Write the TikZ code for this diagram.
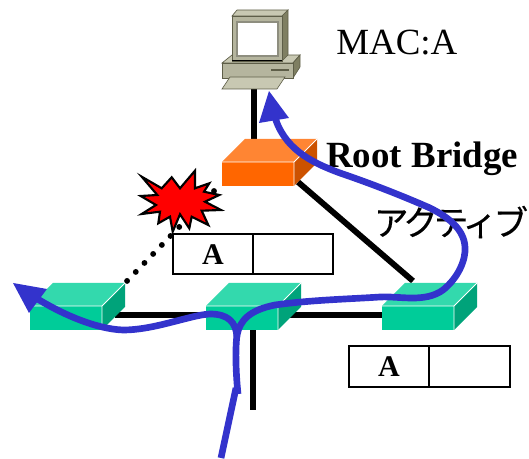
\documentclass[tikz,border=0pt]{standalone}
\usepackage{fontspec}
\setmainfont{Liberation Serif}
\newfontfamily\cjk[FakeBold=0.3,LetterSpace=-11]{Noto Sans CJK JP}
\definecolor{blu}{HTML}{3333CC}
\definecolor{swF}{HTML}{00CC99}
\definecolor{swT}{HTML}{33D9AD}
\definecolor{swS}{HTML}{00A37A}
\definecolor{orF}{HTML}{FF6600}
\definecolor{orT}{HTML}{FF8533}
\definecolor{orS}{HTML}{CC5200}
\definecolor{pcF}{HTML}{B5B59E}
\definecolor{pcT}{HTML}{C8C8B2}
\definecolor{pcS}{HTML}{7F7F62}
\definecolor{pcE}{HTML}{5E5E48}
\begin{document}
\begin{tikzpicture}[x=0.75pt,y=-0.75pt,
  wire/.style={line width=4.4pt,black},
  flow/.style={line width=5pt,blu,line cap=butt},
  headfill/.style={fill=blu,draw=none},
  tablebox/.style={draw=black,line width=1.4pt},
  tabletext/.style={font=\bfseries\fontsize{22.5pt}{24pt}\selectfont,text=black,inner sep=0pt,anchor=center},
  facelab/.style={draw=white,line width=0.6pt}]
\useasboundingbox (0,0) rectangle (529,459);
\coordinate (pcbot) at (254,88);
\coordinate (rootTop) at (254,141);
\coordinate (rootCorner) at (298,182);
\coordinate (swRtop) at (413,281);
\coordinate (swLr) at (115,315);
\coordinate (swMl) at (208,315);
\coordinate (swMr) at (285,315);
\coordinate (swRl) at (382,315);
\coordinate (swMb) at (253,330);
\coordinate (stub) at (253,410);
\coordinate (dotA) at (214,191);
\coordinate (dotB) at (127,281);
% wires
\draw[wire] (pcbot) -- (rootTop);
\draw[wire] (rootCorner) -- (swRtop);
\draw[wire] (swLr) -- (swMl);
\draw[wire] (swMr) -- (swRl);
\draw[wire] (swMb) -- (stub);
\draw[black,line width=4.4pt,line cap=round,dash pattern=on 0pt off 9.38pt] (dotA) -- (dotB);
% PC
\fill[pcT,draw=pcE,line width=.5pt] (222,63) -- (232,55) -- (300,55) -- (293,63) -- cycle;
\fill[pcS,draw=pcE,line width=.5pt] (293,63) -- (300,55) -- (300,67) -- (293,78) -- cycle;
\fill[pcF,draw=pcE,line width=.5pt] (222,63) rectangle (293,78);
\fill[pcE] (271,69) rectangle (289,71);
\fill[pcT,draw=pcE,line width=.5pt] (222,89) -- (230,77) -- (285,77) -- (277,89) -- cycle;
\fill[pcT,draw=pcE,line width=.5pt] (232,16) -- (237,10) -- (288,10) -- (282,16) -- cycle;
\fill[pcS,draw=pcE,line width=.5pt] (282,16) -- (288,10) -- (288,55) -- (282,61) -- cycle;
\fill[pcF,draw=pcE,line width=.5pt] (232,16) rectangle (282,61);
\fill[black] (232,60.5) rectangle (282,61.5);
\fill[white,draw=pcE!70,line width=1pt] (237,22) rectangle (278,56);
% root bridge
\fill[orT] (222,162) -- (245,139) -- (317,139) -- (294,162) -- cycle;
\fill[orS] (294,162) -- (317,139) -- (317,163) -- (294,186) -- cycle;
\fill[orF] (222,162) rectangle (294,186);
\draw[facelab] (222,162) -- (294,162) -- (317,139) (294,162) -- (294,186);
% switches
\foreach \o in {0,176,352}{
  \begin{scope}[xshift=\o*0.75pt]
  \fill[swT] (30,306) -- (53,283) -- (125,283) -- (102,306) -- cycle;
  \fill[swS] (102,306) -- (125,283) -- (125,307) -- (102,330) -- cycle;
  \fill[swF] (30,306) rectangle (102,330);
  \draw[facelab] (30,306) -- (102,306) -- (125,283) (102,306) -- (102,330);
  \end{scope}}
% star
\fill[red,draw=black,line width=1.6pt,line join=miter]
 (141.7,176.7) -- (161.7,188.3) -- (171.7,177.3) -- (180,188.3) -- (195,170.7) -- (195,188.3)
 -- (209.3,183.3) -- (204,191.7) -- (219.3,195) -- (205,201.7) -- (221,210) -- (201.7,210.7)
 -- (208.3,225) -- (191.7,216.7) -- (189.3,228.3) -- (180,214.3) -- (172.7,231.7) -- (170,216.7)
 -- (158.3,223.3) -- (160,211.7) -- (141.7,214) -- (156,205) -- (140.7,196) -- (157.3,195) -- cycle;
% tables
\draw[tablebox] (173,234) rectangle (333,274) (253,234) -- (253,274);
\draw[tablebox] (349,346) rectangle (510,387) (429,346) -- (429,387);
\node[tabletext] (a1) at (213,255) {A};
\node[tabletext] (a2) at (389,367) {A};
% text
\node[anchor=base west,inner sep=0pt,font=\fontsize{27.7pt}{30pt}\selectfont] (mac) at (336,55) {MAC:A};
\node[anchor=base west,inner sep=0pt,font=\bfseries\fontsize{27.7pt}{30pt}\selectfont] (rb) at (326,168) {Root Bridge};
\node[anchor=center,inner sep=0pt,font=\cjk\fontsize{26pt}{28pt}\selectfont] (act) at (451,222) {アクティブ};
% flows
\draw[flow] (221,458) -- (236,388);
\draw[flow] (238,394) .. controls (236,375) and (235,350) .. (237,335)
  .. controls (240,320) and (250,310) .. (275,305)
  .. controls (310,300) and (350,299) .. (380,297)
  .. controls (400,296) and (425,303) .. (443,290)
  .. controls (458,278) and (466,260) .. (465,247)
  .. controls (464,230) and (450,218) .. (430,208)
  .. controls (405,197) and (375,185) .. (340,173)
  .. controls (310,162) and (283,148) .. (274,114);
\draw[flow] (237,337) .. controls (236,322) and (228,314) .. (210,314)
  .. controls (190,315) and (155,330) .. (123,330)
  .. controls (95,329) and (60,313) .. (36,298);
\fill[headfill] (269,91) -- (259,123) -- (289,118) -- cycle;
\fill[headfill] (13,283) -- (29,313) -- (47,289) -- cycle;
\end{tikzpicture}
\end{document}
